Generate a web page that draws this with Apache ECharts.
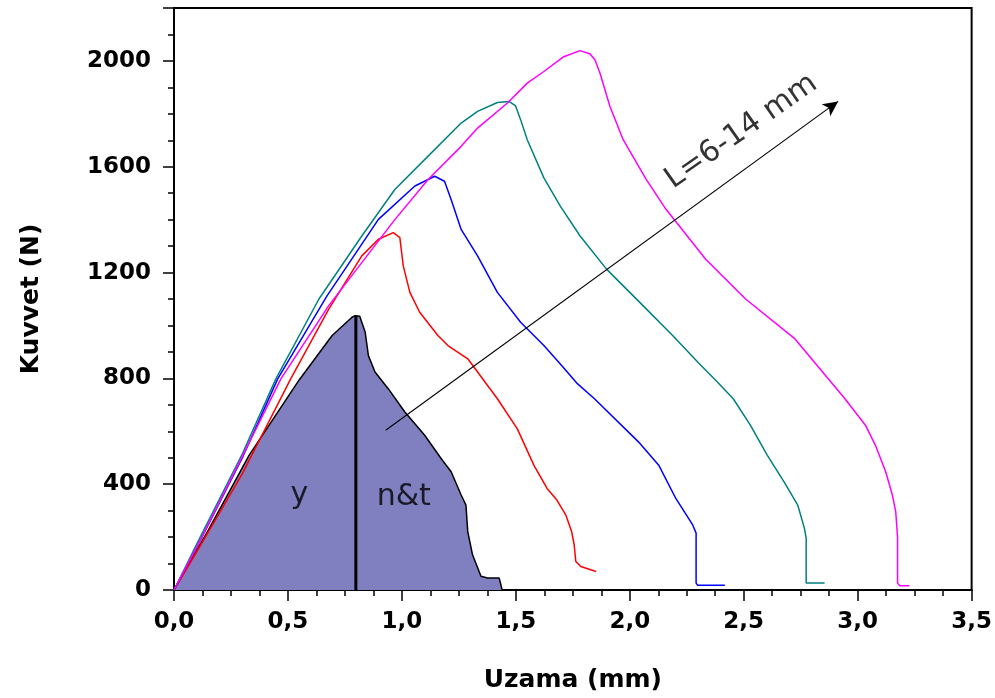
<!DOCTYPE html>
<html><head><meta charset="utf-8">
<script src="https://cdn.jsdelivr.net/npm/echarts@6/dist/echarts.min.js"></script>
<style>html,body{margin:0;padding:0;background:#fff}#c{width:995px;height:698px}</style>
</head><body><div id="c"></div>
<script>
// Uzama (mm), Kuvvet (N) pairs
const curveBlack = [[0,0],[0.15,225],[0.33,510],[0.55,795],[0.694,962],[0.781,1031],[0.795,1037],[0.815,1035],[0.839,974],[0.853,886],[0.882,824],[0.94,761],[1.013,673],[1.1,585],[1.172,497],[1.216,447],[1.26,359],[1.281,321],[1.289,221],[1.31,133],[1.347,52],[1.376,45],[1.427,45],[1.44,0]];
const curveRed = [[0,0],[0.135,196],[0.3,440],[0.512,798],[0.679,1062],[0.824,1263],[0.897,1326],[0.962,1351],[0.991,1332],[1.006,1225],[1.035,1125],[1.078,1050],[1.158,962],[1.202,924],[1.289,874],[1.419,723],[1.506,610],[1.58,470],[1.637,384],[1.68,340],[1.719,284],[1.745,220],[1.756,171],[1.763,108],[1.785,89],[1.852,70]];
const curveBlue = [[0,0],[0.12,195],[0.3,500],[0.455,798],[0.67,1110],[0.897,1401],[1.057,1527],[1.144,1564],[1.187,1545],[1.216,1476],[1.26,1363],[1.332,1263],[1.419,1125],[1.521,1012],[1.623,924],[1.7,850],[1.77,780],[1.845,723],[2.038,560],[2.127,472],[2.202,346],[2.276,246],[2.291,215],[2.291,26],[2.298,18],[2.417,18]];
const curveTeal = [[0,0],[0.115,200],[0.3,515],[0.447,798],[0.636,1100],[0.824,1338],[0.969,1514],[1.115,1640],[1.26,1765],[1.332,1809],[1.419,1843],[1.47,1847],[1.499,1830],[1.521,1778],[1.55,1702],[1.623,1558],[1.695,1451],[1.782,1338],[1.898,1213],[2.058,1075],[2.188,962],[2.3,860],[2.38,790],[2.454,723],[2.529,623],[2.603,510],[2.677,409],[2.737,321],[2.766,234],[2.774,196],[2.774,26],[2.855,26]];
const curveMagenta = [[0,0],[0.12,196],[0.3,505],[0.469,798],[0.679,1075],[0.969,1400],[1.115,1552],[1.26,1677],[1.332,1746],[1.463,1841],[1.55,1916],[1.623,1960],[1.71,2016],[1.782,2039],[1.826,2026],[1.847,2004],[1.869,1954],[1.913,1828],[1.971,1702],[2.072,1552],[2.159,1439],[2.333,1250],[2.508,1100],[2.725,949],[2.944,723],[3.034,623],[3.078,547],[3.123,447],[3.152,359],[3.167,296],[3.175,200],[3.175,26],[3.185,16],[3.227,16]];
const splitLine = [[0.798,0],[0.798,1037]];
const arrowLine = [[0.929,604],[2.914,1847]];
const annotations = [
  {value:[0.55,360], text:'y', rotate:0},
  {value:[1.008,352], text:'n&t', rotate:0},
  {value:[2.49,1733], text:'L=6-14 mm', rotate:35}
];
const xTicks = {min:0, max:3.5, major:0.5, minor:0.125};
const yTicks = {min:0, max:2200, major:400, minor:100};

const FONT = 'DejaVu Sans';
const chart = echarts.init(document.getElementById('c'), null, {renderer:'canvas'});
const fmtX = v => (Math.abs(v/xTicks.major - Math.round(v/xTicks.major)) < 1e-9) ? v.toFixed(1).replace('.', ',') : '';
const fmtY = v => (Math.abs(v % yTicks.major) < 1e-9 && v < yTicks.max) ? String(v) : '';
const lineS = (data, color, w) => ({type:'line', data, showSymbol:false, symbol:'none', xAxisIndex:0, yAxisIndex:0,
  lineStyle:{color, width:w}, animation:false, silent:true, z:3});

chart.setOption({
  animation:false,
  backgroundColor:'#fff',
  grid:{left:174, right:17, top:8, bottom:106, show:true, borderColor:'#000', borderWidth:2, backgroundColor:'transparent'},
  xAxis:[
    {type:'value', min:xTicks.min, max:xTicks.max, interval:xTicks.minor,
     axisLine:{lineStyle:{color:'#000', width:2}},
     axisTick:{length:6, lineStyle:{color:'#000', width:1.5}},
     axisLabel:{formatter:fmtX, margin:21, fontSize:23, fontWeight:'bold', fontFamily:FONT, color:'#000'},
     splitLine:{show:false},
     name:'Uzama (mm)', nameLocation:'middle', nameGap:78,
     nameTextStyle:{fontSize:25, fontWeight:'bold', fontFamily:FONT, color:'#000'}},
    {type:'value', min:xTicks.min, max:xTicks.max, interval:xTicks.major, position:'bottom',
     axisLine:{show:false}, axisTick:{length:11, lineStyle:{color:'#000', width:1.5}},
     axisLabel:{show:false}, splitLine:{show:false}}
  ],
  yAxis:[
    {type:'value', min:yTicks.min, max:yTicks.max, interval:yTicks.minor,
     axisLine:{show:true, lineStyle:{color:'#000', width:2}},
     axisTick:{show:true, length:6, lineStyle:{color:'#000', width:1.5}},
     axisLabel:{formatter:fmtY, margin:23, fontSize:23, fontWeight:'bold', fontFamily:FONT, color:'#000'},
     splitLine:{show:false},
     name:'Kuvvet (N)', nameLocation:'middle', nameGap:130,
     nameTextStyle:{fontSize:25, fontWeight:'bold', fontFamily:FONT, color:'#000'}},
    {type:'value', min:yTicks.min, max:yTicks.max, interval:yTicks.major, position:'left',
     axisLine:{show:false}, axisTick:{show:true, length:11, lineStyle:{color:'#000', width:1.5}},
     axisLabel:{show:false}, splitLine:{show:false}}
  ],
  series:[
    Object.assign(lineS(curveBlack, '#000', 1.5), {areaStyle:{color:'#8080c0', opacity:1}, z:2}),
    lineS(curveRed, '#ff0000', 1.5),
    lineS(curveBlue, '#0000ff', 1.5),
    lineS(curveTeal, '#008080', 1.5),
    lineS(curveMagenta, '#ff00ff', 1.5),
    Object.assign(lineS(splitLine, '#000', 3), {z:4}),
    {type:'line', data:[], xAxisIndex:0, yAxisIndex:0, silent:true, z:5,
     markLine:{silent:true, animation:false, symbol:['none','arrow'], symbolSize:[11,15], label:{show:false},
       lineStyle:{color:'#000', width:1.2, type:'solid'},
       data:[[{coord:arrowLine[0]},{coord:arrowLine[1]}]]}},
    {type:'scatter', xAxisIndex:0, yAxisIndex:0, symbolSize:0, silent:true, z:6,
     data:annotations.map(a => ({value:a.value, label:{show:true, position:'inside', formatter:a.text, rotate:a.rotate,
       fontSize:30, fontFamily:FONT, color:'#000'}}))}
  ]
});
</script></body></html>
